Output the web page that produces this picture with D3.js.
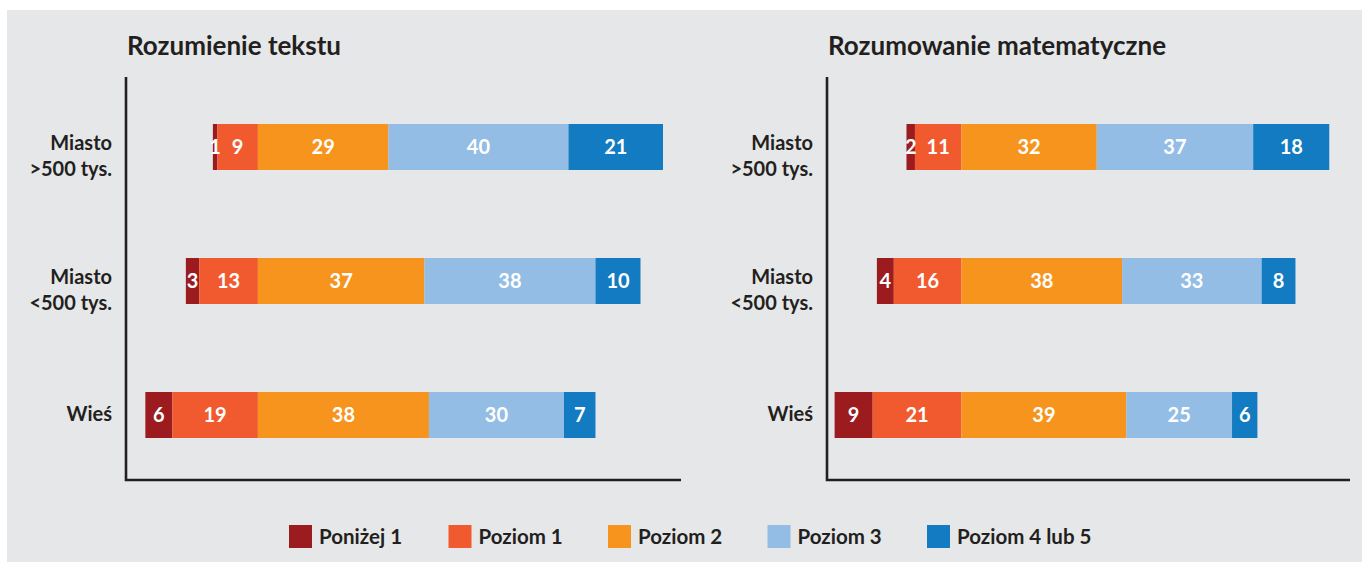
<!DOCTYPE html>
<html>
<head>
<meta charset="utf-8">
<script src="https://cdn.jsdelivr.net/npm/d3@7"></script>
<style>
  body { margin: 0; background: #fff; }
  svg text { font-family: Lato, "Open Sans", sans-serif; font-weight: bold; }
</style>
</head>
<body>
<div id="chart"></div>
<script>
// data (percent of students per level)
var categories = ["Miasto >500 tys.", "Miasto <500 tys.", "Wieś"];
var categoryLines = [["Miasto", ">500 tys."], ["Miasto", "<500 tys."], ["Wieś"]];
var levels = ["Poniżej 1", "Poziom 1", "Poziom 2", "Poziom 3", "Poziom 4 lub 5"];
var levelColors = ["#9b1b1f", "#f15a2f", "#f7941d", "#93bde4", "#137bc2"];
var titles = ["Rozumienie tekstu", "Rozumowanie matematyczne"];
var readingValues = [
    [1, 9, 29, 40, 21],
    [3, 13, 37, 38, 10],
    [6, 19, 38, 30, 7]
];
var mathValues = [
    [2, 11, 32, 37, 18],
    [4, 16, 38, 33, 8],
    [9, 21, 39, 25, 6]
];

var width = 1362, height = 562;
var textColor = "#231f20";

var svg = d3.select("#chart")
    .append("svg")
    .attr("width", width)
    .attr("height", height);

// grey panel
svg.append("rect")
    .attr("x", 7).attr("y", 10)
    .attr("width", width - 7).attr("height", height - 10)
    .attr("fill", "#e6e7e8");

// one panel per subject; bars are aligned at the Poziom 1 / Poziom 2 border
var panels = [
    { title: titles[0], values: readingValues, left: 126, right: 681, domain: [-29.3, 94] },
    { title: titles[1], values: mathValues, left: 827, right: 1350, domain: [-31.8, 91.9] }
];
var axisTop = 77, axisBottom = 480;
var barHeight = 46;

var y = d3.scalePoint()
    .domain(categories)
    .range([147, 415]);

panels.forEach(function (p) {
    var g = svg.append("g");

    var x = d3.scaleLinear()
        .domain(p.domain)
        .range([p.left, p.right]);

    g.append("text")
        .attr("x", p.left + 1)
        .attr("y", 55)
        .attr("fill", textColor)
        .style("font-size", "26px")
        .text(p.title);

    // stacked segments, offset so that level 2 starts at 0
    var segs = [];
    p.values.forEach(function (row, r) {
        var start = -(row[0] + row[1]);
        row.forEach(function (v, k) {
            segs.push({ cat: categories[r], level: k, value: v, x0: start, x1: start + v });
            start += v;
        });
    });

    g.selectAll("rect.seg")
        .data(segs)
        .enter()
        .append("rect")
        .attr("class", "seg")
        .attr("x", d => x(d.x0))
        .attr("y", d => y(d.cat) - barHeight / 2)
        .attr("width", d => x(d.x1) - x(d.x0))
        .attr("height", barHeight)
        .attr("fill", d => levelColors[d.level]);

    g.selectAll("text.val")
        .data(segs)
        .enter()
        .append("text")
        .attr("class", "val")
        .attr("x", d => x((d.x0 + d.x1) / 2))
        .attr("y", d => y(d.cat))
        .attr("dy", "0.36em")
        .attr("text-anchor", "middle")
        .attr("fill", "#fff")
        .style("font-size", "20px")
        .text(d => d.value);

    // category labels
    var labels = g.selectAll("text.cat")
        .data(categories)
        .enter()
        .append("text")
        .attr("class", "cat")
        .attr("text-anchor", "end")
        .attr("fill", textColor)
        .style("font-size", "20px");
    labels.each(function (c, i) {
        var lines = categoryLines[i];
        var t = d3.select(this);
        lines.forEach(function (line, j) {
            t.append("tspan")
                .attr("x", p.left - 14)
                .attr("y", y(c) + (lines.length > 1 ? 3 + j * 26 : 6))
                .text(line);
        });
    });

    // axis lines
    g.append("path")
        .attr("d", "M" + p.left + "," + axisTop + "V" + axisBottom + "H" + p.right)
        .attr("fill", "none")
        .attr("stroke", textColor)
        .attr("stroke-width", 2.6);
});

// legend
var legend = svg.selectAll("g.legend")
    .data(levels)
    .enter()
    .append("g")
    .attr("class", "legend")
    .attr("transform", (d, i) => "translate(" + (289 + i * 159.5) + ",525)");

legend.append("rect")
    .attr("width", 23)
    .attr("height", 23)
    .attr("fill", (d, i) => levelColors[i]);

legend.append("text")
    .attr("x", 30)
    .attr("y", 19)
    .attr("fill", textColor)
    .style("font-size", "20.5px")
    .text(d => d);
</script>
</body>
</html>
